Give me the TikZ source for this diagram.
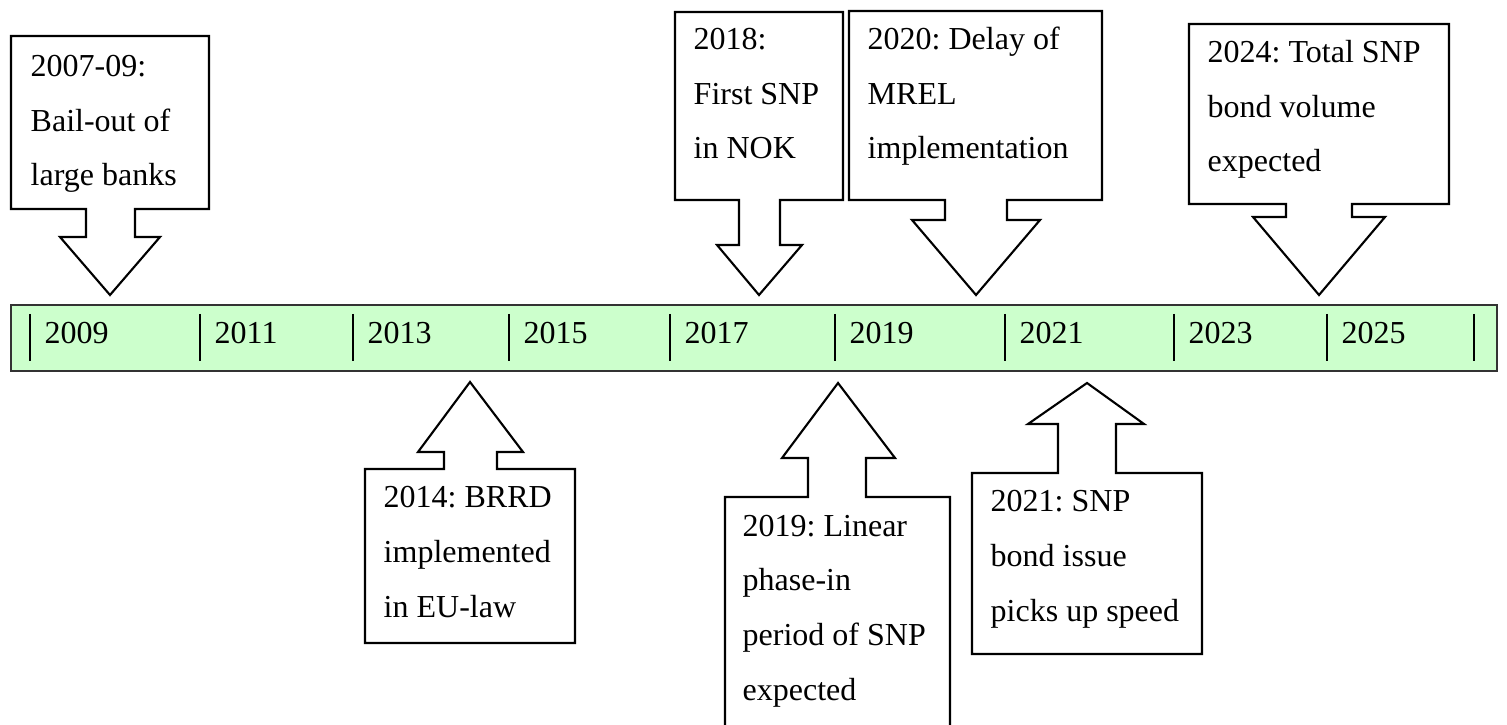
\documentclass[tikz,border=0pt]{standalone}
\usepackage{fontspec}
\setmainfont{Liberation Serif}
\usepackage{tikz}
\usetikzlibrary{positioning}
\frenchspacing

\definecolor{barfill}{HTML}{CCFFCC}

\begin{document}
\begin{tikzpicture}[
    x=0.01cm, y=-0.01cm,
    every node/.style={font=\fontsize{9.1}{15.5}\selectfont},
    callout/.style={draw, line width=0.6pt, fill=white},
    evtext/.style={anchor=base west, align=left, inner sep=0pt},
    yearlab/.style={anchor=base west, inner sep=0pt},
    timebar/.style={draw=black!80, line width=0.8pt, fill=barfill}
]
    \useasboundingbox (0,0) rectangle (1507,725);

    % Timeline
    \draw[timebar] (11,305) rectangle (1497,371);
    \foreach \tx/\yr in {30/2009, 200/2011, 353/2013, 509/2015, 670/2017,
                         835/2019, 1005/2021, 1174/2023, 1327/2025} {
        \draw[line width=0.6pt] (\tx,314) -- (\tx,361);
        \node[yearlab] (y\yr) at (\tx+14,344) {\yr};
    }
    \draw[line width=0.6pt] (1474,314) -- (1474,361);

    % Callouts above the bar
    \draw[callout] (11,36) -- (209,36) -- (209,209) -- (135,209) -- (135,237)
        -- (160,237) -- (110,295) -- (60,237) -- (86,237) -- (86,209) -- (11,209) -- cycle;
    \draw[callout] (675,12) -- (843,12) -- (843,200) -- (780,200) -- (780,245)
        -- (802,245) -- (759,295) -- (717,245) -- (739,245) -- (739,200) -- (675,200) -- cycle;
    \draw[callout] (849,11) -- (1102,11) -- (1102,200) -- (1007,200) -- (1007,220)
        -- (1040,220) -- (976,295) -- (912,220) -- (945,220) -- (945,200) -- (849,200) -- cycle;
    \draw[callout] (1189,24) -- (1449,24) -- (1449,204) -- (1352,204) -- (1352,217)
        -- (1385,217) -- (1319,295) -- (1253,217) -- (1286,217) -- (1286,204) -- (1189,204) -- cycle;

    % Callouts below the bar
    \draw[callout] (470,382) -- (523,452) -- (497,452) -- (497,469) -- (575,469)
        -- (575,643) -- (365,643) -- (365,469) -- (444,469) -- (444,452) -- (418,452) -- cycle;
    \draw[callout] (838,383) -- (895,458) -- (866,458) -- (866,497) -- (950,497)
        -- (950,740) -- (725,740) -- (725,497) -- (808,497) -- (808,458) -- (782,458) -- cycle;
    \draw[callout] (1087,383) -- (1144,424) -- (1116,424) -- (1116,473) -- (1202,473)
        -- (1202,654) -- (972,654) -- (972,473) -- (1058,473) -- (1058,424) -- (1028,424) -- cycle;

    % Event texts (placed at the baseline of their last line)
    \node[evtext] (ev07) at (30,186) {2007-09:\\Bail-out of\\large banks};
    \node[evtext] (ev18) at (693,159) {2018:\\First SNP\\in NOK};
    \node[evtext] (ev20) at (867,159) {2020: Delay of\\MREL\\implementation};
    \node[evtext] (ev24) at (1207,172) {2024: Total SNP\\bond volume\\expected};
    \node[evtext] (ev14) at (383,617) {2014: BRRD\\implemented\\in EU-law};
    \node[evtext] (ev19) at (742,700) {2019: Linear\\phase-in\\period of SNP\\expected};
    \node[evtext] (ev21) at (990,621) {2021: SNP\\bond issue\\picks up speed};

\end{tikzpicture}
\end{document}
